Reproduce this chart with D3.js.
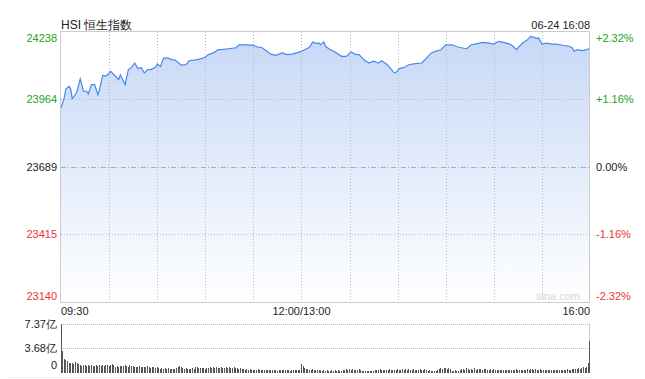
<!DOCTYPE html>
<html>
<head>
<meta charset="utf-8">
<script src="https://cdn.jsdelivr.net/npm/d3@7"></script>
<style>
  body { margin: 0; background: #fff; }
  svg { display: block; font-family: "Liberation Sans", Arial, sans-serif; }
</style>
</head>
<body>
<div id="chart"></div>
<script>
// HSI intraday, 06-24
var prevClose = 23689;
var times = ["09:30","09:32","09:33","09:35","09:36","09:37","09:39","09:40","09:42","09:44",
  "09:46","09:47","09:49","09:51","09:53","09:54","09:56","09:58","09:59","10:01",
  "10:04","10:06","10:07","10:10","10:12","10:14","10:16","10:18","10:20","10:22",
  "10:24","10:26","10:29","10:30","10:32","10:34","10:37","10:39","10:41","10:45",
  "10:48","10:50","10:54","10:57","11:00","11:02","11:05","11:08","11:10","11:14",
  "11:18","11:19","11:21","11:26","11:30","11:33","11:35","11:38","11:41","11:44",
  "11:46","11:48","11:51","11:54","11:57","11:59","13:00","13:02","13:05","13:07",
  "13:09","13:11","13:12","13:14","13:15","13:18","13:21","13:25","13:28","13:31",
  "13:34","13:36","13:39","13:42","13:45","13:48","13:50","13:53","13:55","13:58",
  "13:59","14:01","14:04","14:07","14:10","14:15","14:17","14:19","14:21","14:24",
  "14:27","14:30","14:34","14:38","14:43","14:46","14:49","14:53","14:57","15:00",
  "15:03","15:06","15:10","15:12","15:14","15:16","15:18","15:21","15:23","15:25",
  "15:27","15:28","15:30","15:33","15:36","15:39","15:43","15:47","15:49","15:50",
  "15:52","15:55","15:58","16:00"];
var prices = [23929,23970,24006,24017,24007,23967,23983,23997,24047,23997,
  23997,23986,24024,24024,23983,24003,24062,24058,24064,24078,
  24058,24044,24064,24024,24085,24094,24112,24089,24094,24071,
  24085,24085,24094,24108,24098,24132,24132,24125,24125,24103,
  24105,24121,24125,24129,24135,24146,24153,24166,24166,24169,
  24173,24173,24186,24186,24184,24176,24176,24162,24148,24143,
  24148,24153,24146,24148,24153,24157,24160,24166,24176,24197,
  24192,24193,24186,24197,24180,24166,24157,24139,24139,24157,
  24146,24146,24125,24112,24119,24112,24121,24108,24094,24071,
  24074,24089,24094,24105,24108,24112,24125,24139,24153,24160,
  24166,24186,24186,24176,24170,24186,24190,24196,24193,24189,
  24200,24196,24189,24180,24166,24180,24193,24207,24220,24216,
  24211,24214,24189,24193,24189,24189,24184,24180,24173,24160,
  24166,24162,24166,24173];

var priceTicks = [23140, 23415, 23689, 23964, 24238];
var pctTicks = ["-2.32%", "-1.16%", "0.00%", "+1.16%", "+2.32%"];
var timeTicks = ["09:30", "12:00/13:00", "16:00"];

// volume per minute, 09:30 .. 16:00 (unit: 亿)
var volume = [7.37,3.33,2.06,1.96,1.86,1.56,1.47,1.56,1.37,1.71,1.47,
  1.33,1.18,1.10,1.15,1.12,1.08,1.15,1.05,1.20,1.10,
  1.02,1.15,1.08,1.25,1.05,1.12,1.00,1.18,1.22,1.10,
  1.15,1.37,1.20,0.95,1.00,0.92,1.05,0.98,1.02,1.20,
  1.10,0.90,1.18,1.05,1.00,0.95,0.88,0.92,1.00,0.85,
  0.95,0.90,0.82,0.98,0.88,0.80,0.92,0.85,0.78,0.90,
  0.70,0.65,0.72,0.60,0.68,0.62,0.70,0.58,0.66,0.60,
  0.64,0.72,0.95,1.00,0.90,0.68,0.62,0.70,0.58,0.65,
  0.60,0.70,0.62,0.88,0.92,0.75,0.80,0.70,0.78,0.66,
  0.72,0.68,0.82,0.78,0.85,0.70,0.90,0.80,0.75,0.92,
  0.70,0.80,0.88,0.72,0.85,0.68,0.75,0.82,0.70,0.78,
  0.65,0.80,0.55,0.60,0.52,0.58,0.48,0.55,0.50,0.45,
  0.52,0.48,0.55,0.42,0.50,0.46,0.40,0.48,0.44,0.38,
  0.45,0.40,0.48,0.42,0.36,0.44,0.40,0.50,0.38,0.42,
  0.46,0.40,0.35,0.44,0.48,0.40,0.52,0.45,0.50,1.37,
  1.00,0.70,0.55,0.62,0.45,0.50,0.58,0.42,0.48,0.40,
  0.38,0.42,0.35,0.40,0.32,0.38,0.30,0.36,0.42,0.34,
  0.40,0.33,0.38,0.30,0.36,0.52,0.45,0.58,0.48,0.55,
  0.50,0.60,0.46,0.52,0.44,0.56,0.40,0.32,0.30,0.35,
  0.28,0.33,0.30,0.36,0.32,0.45,0.50,0.42,0.55,0.48,
  0.52,0.44,0.50,0.46,0.55,0.40,0.48,0.52,0.45,0.58,
  0.50,0.46,0.62,0.48,0.55,0.44,0.60,0.50,0.42,0.56,
  0.48,0.52,0.45,0.58,0.50,0.40,0.55,0.46,0.35,0.38,
  0.32,0.36,0.30,0.34,0.40,0.65,0.72,0.60,0.75,0.68,
  0.62,0.70,0.55,0.36,0.32,0.38,0.30,0.35,0.40,0.55,
  0.62,0.50,0.68,0.58,0.45,0.65,0.52,0.70,0.48,0.60,
  0.55,0.66,0.50,0.58,0.62,0.45,0.52,0.60,0.48,0.55,
  0.44,0.50,0.40,0.46,0.42,0.38,0.44,0.48,0.40,0.52,
  0.45,0.50,0.42,0.55,0.48,0.40,0.46,0.52,0.44,0.50,
  0.58,0.48,0.62,0.55,0.50,0.60,0.46,0.52,0.58,0.45,
  0.50,0.42,0.48,0.40,0.46,0.52,0.38,0.44,0.50,0.42,
  0.48,0.40,0.45,0.52,0.46,0.55,0.50,0.48,0.62,0.58,
  0.66,0.55,0.72,0.60,0.78,0.85,0.70,0.92,1.47,4.70];
var volTicks = [0, 3.68, 7.37];
var volTickLabels = ["0", "3.68亿", "7.37亿"];

var W = 645, H = 379;
// plot box (note: "top" is taken by window.top, so prefix everything)
var pL = 61, pR = 590, pT = 32, pB = 302;
var vT = 323.5, vB = 373;
var green = "#22a322", red = "#ee3333";

// minutes since open, lunch break removed
function sessionMinute(t) {
  var p = t.split(":").map(Number);
  var v = p[0] * 60 + p[1];
  return v <= 720 ? v - 570 : v - 780 + 150;
}

var data = times.map(function(t, i) { return {m: sessionMinute(t), p: prices[i]}; });

var x = d3.scaleLinear().domain([0, 330]).range([pL, pR]);
var y = d3.scaleLinear().domain([priceTicks[0], priceTicks[4]]).range([pB, pT]);
var yv = d3.scaleLinear().domain([0, 7.37]).range([vB, vT]);

var svg = d3.select("#chart").append("svg")
  .attr("width", W)
  .attr("height", H);

var grad = svg.append("defs").append("linearGradient")
  .attr("id", "fill")
  .attr("gradientUnits", "userSpaceOnUse")
  .attr("x1", 0).attr("y1", pT)
  .attr("x2", 0).attr("y2", pB);
grad.append("stop").attr("offset", "0%").attr("stop-color", "#c6d8f6");
grad.append("stop").attr("offset", "100%").attr("stop-color", "#ffffff");

// area
svg.append("path")
  .datum(data)
  .attr("fill", "url(#fill)")
  .attr("d", d3.area()
    .x(function(d) { return x(d.m); })
    .y0(pB)
    .y1(function(d) { return y(d.p); }));

// grid
svg.append("g").selectAll("line")
  .data(priceTicks.filter(function(v) { return v != prevClose && v != priceTicks[0] && v != priceTicks[4]; }))
  .enter().append("line")
  .attr("x1", pL).attr("x2", pR)
  .attr("y1", function(d) { return Math.round(y(d)) + 0.5; })
  .attr("y2", function(d) { return Math.round(y(d)) + 0.5; })
  .attr("stroke", "#bbb")
  .attr("stroke-dasharray", "1,2");

svg.append("line")
  .attr("x1", pL).attr("x2", pR)
  .attr("y1", Math.round(y(prevClose)) + 0.5)
  .attr("y2", Math.round(y(prevClose)) + 0.5)
  .attr("stroke", "#aab")
  .attr("stroke-dasharray", "5,2,1,2");

svg.append("g").selectAll("line")
  .data(d3.range(30, 330, 30))
  .enter().append("line")
  .attr("x1", function(d) { return Math.round(x(d)) + 0.5; })
  .attr("x2", function(d) { return Math.round(x(d)) + 0.5; })
  .attr("y1", pT).attr("y2", pB)
  .attr("stroke", "#bbb")
  .attr("stroke-dasharray", "1,2");

// price line
svg.append("path")
  .datum(data)
  .attr("fill", "none")
  .attr("stroke", "#4a88ec")
  .attr("stroke-width", 1.2)
  .attr("d", d3.line()
    .x(function(d) { return x(d.m); })
    .y(function(d) { return y(d.p); }));

svg.append("rect")
  .attr("x", pL - 0.5).attr("y", pT - 0.5)
  .attr("width", pR - pL).attr("height", pB - pT + 1)
  .attr("fill", "none")
  .attr("stroke", "#ccc");

svg.append("text")
  .attr("x", pR - 10).attr("y", 300)
  .attr("text-anchor", "end")
  .attr("font-size", 11)
  .attr("fill", "#d4d4d4")
  .text("sina.com");

function tickY(d, i) {
  if (i == 0) return pB - 2;
  if (i == 4) return pT + 10;
  return y(d) + 4;
}
function tickColor(d) { return d > prevClose ? green : d < prevClose ? red : "#222"; }

// price labels, left
svg.append("g").selectAll("text")
  .data(priceTicks)
  .enter().append("text")
  .attr("x", 57)
  .attr("y", tickY)
  .attr("text-anchor", "end")
  .attr("font-size", 11)
  .attr("fill", tickColor)
  .text(function(d) { return d; });

// percent labels, right
svg.append("g").selectAll("text")
  .data(priceTicks)
  .enter().append("text")
  .attr("x", 596)
  .attr("y", tickY)
  .attr("font-size", 11)
  .attr("fill", tickColor)
  .text(function(d, i) { return pctTicks[i]; });

// time labels
svg.append("g").selectAll("text")
  .data(timeTicks)
  .enter().append("text")
  .attr("x", function(d, i) { return [pL, x(150), pR][i]; })
  .attr("y", 315)
  .attr("text-anchor", function(d, i) { return ["start", "middle", "end"][i]; })
  .attr("font-size", 11)
  .attr("fill", "#222")
  .text(function(d) { return d; });

// title
svg.append("text")
  .attr("x", pL).attr("y", 29)
  .attr("font-size", 12)
  .attr("fill", "#222")
  .text("HSI 恒生指数");

svg.append("text")
  .attr("x", pR).attr("y", 29)
  .attr("text-anchor", "end")
  .attr("font-size", 11)
  .attr("fill", "#222")
  .text("06-24 16:08");

// volume panel
svg.append("g").selectAll("line")
  .data(volTicks.slice(1))
  .enter().append("line")
  .attr("x1", pL).attr("x2", pR)
  .attr("y1", function(d) { return Math.round(yv(d)) + 0.5; })
  .attr("y2", function(d) { return Math.round(yv(d)) + 0.5; })
  .attr("stroke", "#bbb")
  .attr("stroke-dasharray", "1,1");

svg.append("line")
  .attr("x1", pR - 0.5).attr("x2", pR - 0.5)
  .attr("y1", vT).attr("y2", vB)
  .attr("stroke", "#ccc");

// one crisp 1px bar per minute
svg.append("g")
  .attr("shape-rendering", "crispEdges")
  .selectAll("rect")
  .data(volume)
  .enter().append("rect")
  .attr("x", function(d, i) { return Math.min(Math.floor(x(i)), pR - 1); })
  .attr("width", 1)
  .attr("y", function(d) { return Math.round(yv(d)); })
  .attr("height", function(d) { return vB - Math.round(yv(d)); })
  .attr("fill", "#555");

svg.append("g").selectAll("text")
  .data(volTicks)
  .enter().append("text")
  .attr("x", 57)
  .attr("y", function(d, i) { return i == 0 ? vB - 4 : yv(d) + 4; })
  .attr("text-anchor", "end")
  .attr("font-size", 11)
  .attr("fill", "#222")
  .text(function(d, i) { return volTickLabels[i]; });

svg.append("line")
  .attr("x1", 6).attr("x2", pR + 2)
  .attr("y1", 377.5).attr("y2", 377.5)
  .attr("stroke", "#eee");
</script>
</body>
</html>
